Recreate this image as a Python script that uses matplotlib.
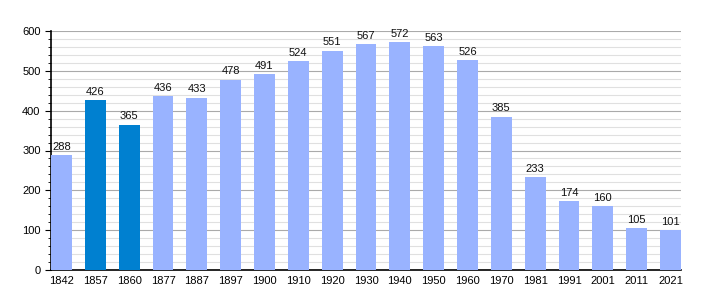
import matplotlib
matplotlib.use("Agg")
import matplotlib.pyplot as plt
from matplotlib.ticker import MultipleLocator

years = ["1842", "1857", "1860", "1877", "1887", "1897", "1900", "1910", "1920", "1930",
         "1940", "1950", "1960", "1970", "1981", "1991", "2001", "2011", "2021"]
population = [288, 426, 365, 436, 433, 478, 491, 524, 551, 567,
              572, 563, 526, 385, 233, 174, 160, 105, 101]
highlight = ["1857", "1860"]

plt.rcParams['font.family'] = ['Liberation Sans', 'DejaVu Sans']

fig = plt.figure(figsize=(7.1, 3.0), dpi=100)
ax = fig.add_axes([51/710, 30/300, 630/710, 239/300])

colors = ["#0080d0" if y in highlight else "#99b3ff" for y in years]
x = list(range(len(years)))
bars = ax.bar(x, population, width=0.62, color=colors, zorder=3)
for xi, v in zip(x, population):
    ax.text(xi, v + 8, str(v), ha='center', va='bottom', fontsize=8, color='#111111', zorder=4)

ax.set_xlim(-0.31, len(years) - 1 + 0.31)
ax.set_ylim(0, 600)
ax.set_xticks(x)
ax.set_xticklabels(years)
ax.yaxis.set_major_locator(MultipleLocator(100))
ax.yaxis.set_minor_locator(MultipleLocator(20))
ax.grid(axis='y', which='major', color='#aaaaaa', linewidth=0.8, zorder=0)
ax.grid(axis='y', which='minor', color='#e0e0e0', linewidth=0.8, zorder=0)
ax.tick_params(axis='x', length=0, labelsize=8, pad=4)
ax.tick_params(axis='y', which='major', length=4, labelsize=8, direction='out')
ax.tick_params(axis='y', which='minor', length=2, direction='out')
for s in ['top', 'right']:
    ax.spines[s].set_visible(False)
ax.spines['left'].set_linewidth(1.2)
ax.spines['bottom'].set_linewidth(1.2)

fig.savefig("out.png", dpi=100)
